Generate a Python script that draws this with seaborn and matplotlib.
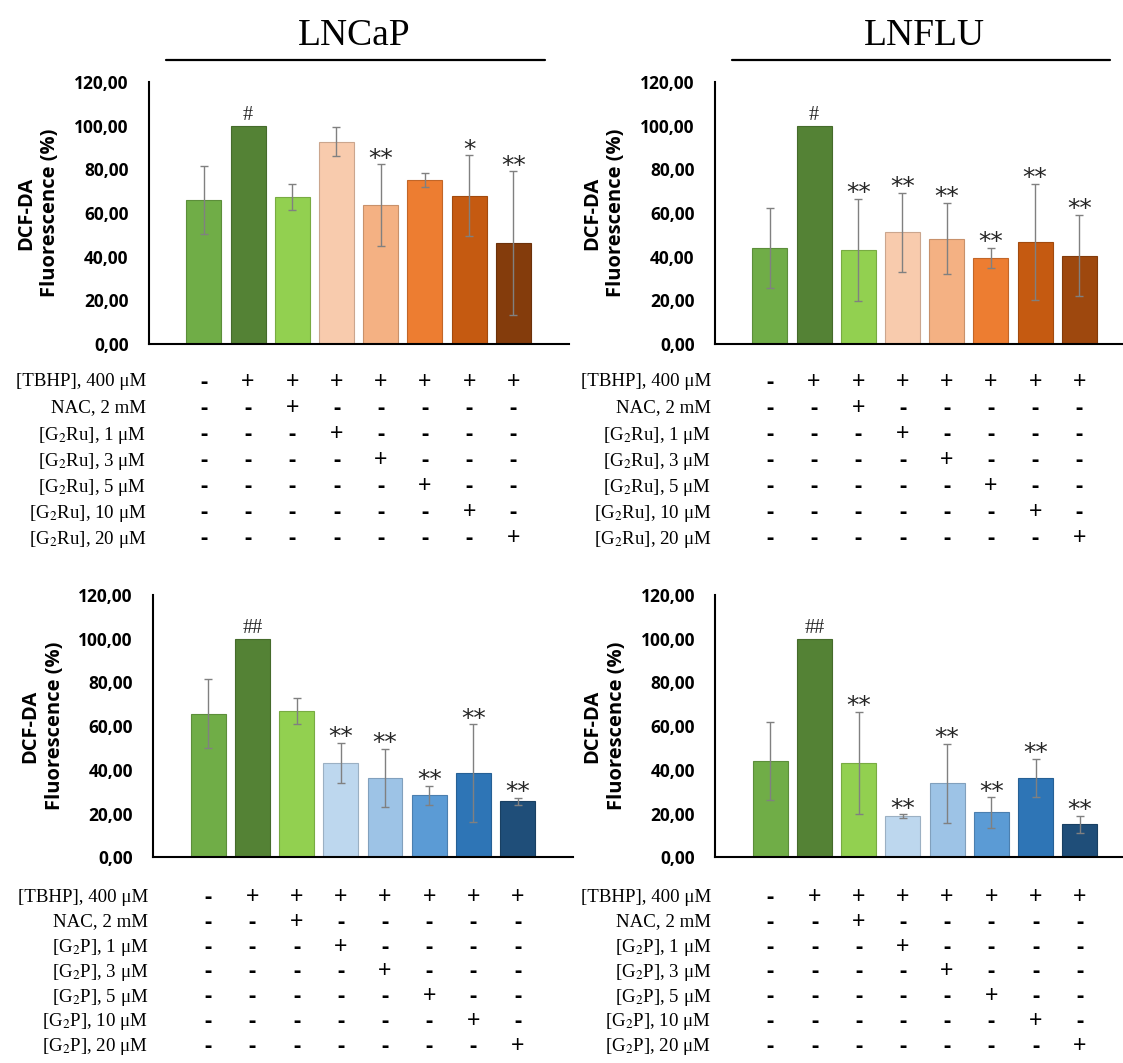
import numpy as np
import pandas as pd
import matplotlib
matplotlib.use("Agg")
import matplotlib.pyplot as plt
import seaborn as sns
from matplotlib.transforms import blended_transform_factory
from matplotlib.lines import Line2D
from matplotlib.colors import to_rgb

sns.set_theme(style="white")
plt.rcParams['font.family'] = ['Open Sans', 'DejaVu Sans']
plt.rcParams['mathtext.fontset'] = 'stix'

# ---------------- data ----------------
conditions = ["Control", "TBHP", "TBHP+NAC", "1 uM", "3 uM", "5 uM", "10 uM", "20 uM"]

lncap_g2ru_mean = [65.8, 100.0, 67.3, 92.7, 63.6, 75.0, 68.0, 46.1]
lncap_g2ru_sd = [15.5, 0.0, 6.0, 6.7, 18.7, 3.3, 18.4, 33.0]
lncap_g2ru_sig = ["", "#", "", "", "**", "", "*", "**"]

lnflu_g2ru_mean = [44.0, 100.0, 43.0, 51.1, 48.3, 39.5, 46.8, 40.5]
lnflu_g2ru_sd = [18.3, 0.0, 23.5, 18.2, 16.3, 4.6, 26.5, 18.7]
lnflu_g2ru_sig = ["", "#", "**", "**", "**", "**", "**", "**"]

lncap_g2p_mean = [65.7, 100.0, 67.1, 43.1, 36.3, 28.4, 38.4, 25.6]
lncap_g2p_sd = [15.7, 0.0, 6.0, 9.2, 13.2, 4.4, 22.4, 1.5]
lncap_g2p_sig = ["", "##", "", "**", "**", "**", "**", "**"]

lnflu_g2p_mean = [44.1, 100.0, 43.1, 18.7, 33.8, 20.5, 36.4, 15.2]
lnflu_g2p_sd = [18.0, 0.0, 23.4, 0.9, 18.1, 6.9, 8.6, 3.9]
lnflu_g2p_sig = ["", "##", "**", "**", "**", "**", "**", "**"]

titles = ["LNCaP", "LNFLU"]
ylabel = "DCF-DA\nFluorescence (%)"
yticks = [0, 20, 40, 60, 80, 100, 120]
ytick_labels = ["0,00", "20,00", "40,00", "60,00", "80,00", "100,00", "120,00"]

row_labels_g2ru = ["[TBHP], 400 μM", "NAC, 2 mM", "[G$_2$Ru], 1 μM", "[G$_2$Ru], 3 μM",
                   "[G$_2$Ru], 5 μM", "[G$_2$Ru], 10 μM", "[G$_2$Ru], 20 μM"]
row_labels_g2p = ["[TBHP], 400 μM", "NAC, 2 mM", "[G$_2$P], 1 μM", "[G$_2$P], 3 μM",
                  "[G$_2$P], 5 μM", "[G$_2$P], 10 μM", "[G$_2$P], 20 μM"]
table_signs = ["-+++++++", "--+-----", "---+----", "----+---",
               "-----+--", "------+-", "-------+"]

greens = ["#70AD47", "#548235", "#92D050"]
oranges_lncap = ["#F8CBAD", "#F4B183", "#ED7D31", "#C55A11", "#843C0C"]
oranges_lnflu = ["#F8CBAD", "#F4B183", "#ED7D31", "#C55A11", "#9E480E"]
blues = ["#BDD7EE", "#9DC3E6", "#5B9BD5", "#2E75B6", "#1F4E79"]

# ---------------- layout ----------------
W, H = 1123, 1063
fig = plt.figure(figsize=(W / 100, H / 100), dpi=100)


def fx(px):
    return px / W


def fy(py):
    return 1 - py / H


panels = [
    dict(mean=lncap_g2ru_mean, sd=lncap_g2ru_sd, sig=lncap_g2ru_sig, colors=greens + oranges_lncap,
         rows=row_labels_g2ru, left=148.6, top=82.0, bottom=344.0, label_right=146, row0=380, rowstep=26.0),
    dict(mean=lnflu_g2ru_mean, sd=lnflu_g2ru_sd, sig=lnflu_g2ru_sig, colors=greens + oranges_lnflu,
         rows=row_labels_g2ru, left=714.6, top=82.0, bottom=344.0, label_right=711, row0=380, rowstep=26.0),
    dict(mean=lncap_g2p_mean, sd=lncap_g2p_sd, sig=lncap_g2p_sig, colors=greens + blues,
         rows=row_labels_g2p, left=152.9, top=595.0, bottom=857.3, label_right=148, row0=895, rowstep=24.8),
    dict(mean=lnflu_g2p_mean, sd=lnflu_g2p_sd, sig=lnflu_g2p_sig, colors=greens + blues,
         rows=row_labels_g2p, left=715.0, top=595.0, bottom=857.3, label_right=711, row0=895, rowstep=24.8),
]
AX_W = 420.0


def darker(c, f=0.82):
    r, g, b = to_rgb(c)
    return (r * f, g * f, b * f)


for p in panels:
    ax = fig.add_axes([fx(p["left"]), fy(p["bottom"]), AX_W / W, (p["bottom"] - p["top"]) / H])
    df = pd.DataFrame({"condition": conditions, "value": p["mean"]})
    sns.barplot(data=df, x="condition", y="value", hue="condition", palette=p["colors"],
                legend=False, width=0.79, saturation=1, ax=ax, errorbar=None)
    for patch, c in zip(ax.patches, p["colors"]):
        patch.set_edgecolor(darker(c))
        patch.set_linewidth(0.8)

    xs = np.arange(len(conditions))
    mean = np.array(p["mean"])
    sd = np.array(p["sd"])
    m = sd > 0
    ax.errorbar(xs[m], mean[m], yerr=sd[m], fmt="none", ecolor="#808080",
                elinewidth=1.0, capsize=2.6, capthick=1.0, zorder=5)

    for i, s in enumerate(p["sig"]):
        if not s:
            continue
        top = mean[i] + sd[i]
        if "#" in s:
            ax.annotate(s, (i, top), xytext=(0, 4.0), textcoords="offset points",
                        ha="center", va="baseline", fontsize=14.5, family="Liberation Serif",
                        annotation_clip=False)
        else:
            ax.annotate(s, (i, top), xytext=(0, -1.0), textcoords="offset points",
                        ha="center", va="baseline", fontsize=18, family="DejaVu Sans",
                        annotation_clip=False)

    ax.set_xlim(-1.25, 8.25)
    ax.set_ylim(0, 120)
    ax.set_yticks(yticks)
    ax.set_yticklabels(ytick_labels, fontsize=12.5, fontweight="bold")
    ax.set_xticks([])
    ax.set_xlabel("")
    ax.tick_params(axis="y", length=0, pad=14.4, colors="black")
    for side in ["top", "right"]:
        ax.spines[side].set_visible(False)
    for side in ["left", "bottom"]:
        ax.spines[side].set_color("black")
        ax.spines[side].set_linewidth(1.5)
    ax.set_ylabel(ylabel, fontsize=14.5, fontweight="bold", linespacing=1.3, color="black")
    ax.yaxis.set_label_coords(-0.21, 0.5)

    # table below the panel
    trans = blended_transform_factory(ax.transData, fig.transFigure)
    for r, (lab, signs) in enumerate(zip(p["rows"], table_signs)):
        ypix = p["row0"] + r * p["rowstep"]
        fig.text(fx(p["label_right"]), fy(ypix), lab, ha="right", va="center_baseline",
                 fontsize=13.6, family="Liberation Serif", color="black")
        for j, ch in enumerate(signs):
            if ch == "+":
                ax.text(j, fy(ypix), ch, transform=trans, ha="center", va="center_baseline",
                        fontsize=17, fontweight="normal", family="Open Sans",
                        color="black", clip_on=False)
            else:
                ax.text(j, fy(ypix), ch, transform=trans, ha="center", va="center_baseline",
                        fontsize=16, fontweight="bold", family="Open Sans",
                        color="black", clip_on=False)

# titles with rules
title_specs = [(354, 166, 545), (924, 732, 1110)]
for t, (cx, x0, x1) in zip(titles, title_specs):
    fig.text(fx(cx), fy(45), t, ha="center", va="baseline", fontsize=27,
             family="Liberation Serif", color="black")
    fig.add_artist(Line2D([fx(x0), fx(x1)], [fy(60), fy(60)], color="black", lw=1.6))

fig.savefig("out.png", dpi=100)
